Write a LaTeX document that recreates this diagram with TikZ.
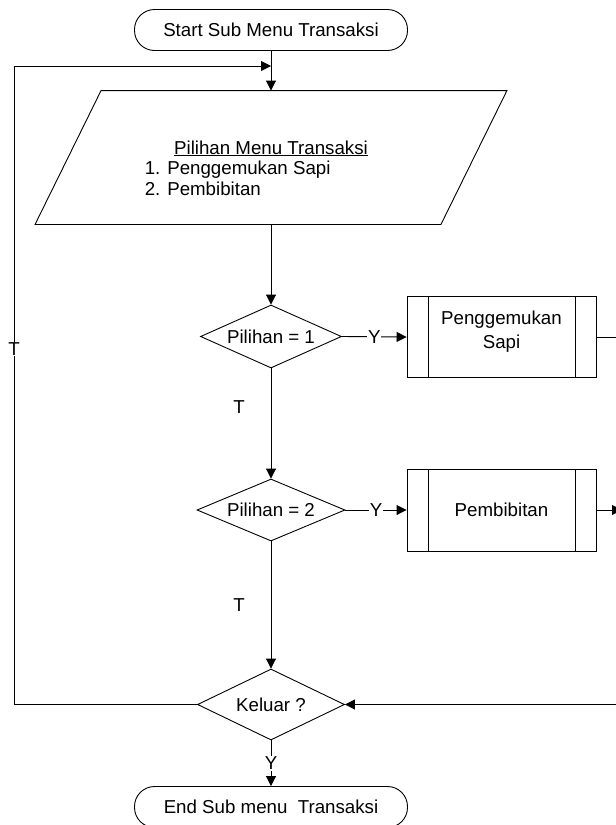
\documentclass[tikz,border=0pt]{standalone}
\usepackage{fontspec}
\setmainfont{Liberation Sans}
\usetikzlibrary{shapes.geometric,arrows.meta}

\begin{document}
\begin{tikzpicture}[x=1pt,y=-1pt,
  font=\fontsize{18.7}{21}\selectfont,
  line width=0.9pt,
  terminal/.style={draw, rectangle, rounded corners=20pt, minimum width=273pt,
    minimum height=41pt, inner sep=0pt},
  decision/.style={draw, diamond, aspect=2.3, inner sep=0pt},
  process/.style={draw, rectangle, minimum width=189pt, minimum height=81pt,
    align=center, inner sep=0pt,
    path picture={\draw
      ([xshift=21pt]path picture bounding box.north west) --
      ([xshift=21pt]path picture bounding box.south west)
      ([xshift=-21pt]path picture bounding box.north east) --
      ([xshift=-21pt]path picture bounding box.south east);}},
  flow/.style={-{Triangle[length=10pt,width=10pt]}},
  lbl/.style={fill=white, inner sep=1pt}
]
\useasboundingbox (0,0) rectangle (616,825);

% terminals
\node[terminal] (start) at (271,30) {Start Sub Menu Transaksi};
\node[terminal] (end) at (271,807) {End Sub menu\ \ Transaksi};

% menu input (parallelogram)
\node[minimum width=405pt, minimum height=133pt, inner sep=0pt] (menu) at (271,157.5) {};
\draw ([xshift=33pt]menu.north west) -- ([xshift=33pt]menu.north east)
  -- ([xshift=-33pt]menu.south east) -- ([xshift=-33pt]menu.south west) -- cycle;
\node[anchor=base] (menutitle) at (271,154) {\underline{Pilihan Menu Transaksi}};
\node[anchor=base west] (item1) at (141,174.5) {1. Penggemukan Sapi};
\node[anchor=base west] (item2) at (141,195.5) {2. Pembibitan};

% decisions
\node[decision, minimum width=141pt, minimum height=63pt] (d1) at (271,336.5) {Pilihan = 1};
\node[decision, minimum width=148pt, minimum height=62pt] (d2) at (271,510) {Pilihan = 2};
\node[decision, minimum width=147pt, minimum height=71pt] (d3) at (271,704.5) {Keluar ?};

% processes
\node[process, font=\fontsize{18.7}{24}\selectfont] (b1) at (501.5,337)
  {\raisebox{1.3pt}[0pt][0pt]{\begin{tabular}{@{}c@{}}Penggemukan\\Sapi\end{tabular}}};
\node[process, minimum height=82pt] (b2) at (501.5,510) {Pembibitan};

% helper coordinates
\coordinate (merge) at (271,66);
\coordinate (lefttop) at (14,66);
\coordinate (rbot) at (622,704.5);

% main flow
\draw[flow] (start.south) -- (menu.north);
\draw[flow] (menu.south) -- (d1.north);
\draw[flow] (d1.south) -- (d2.north);
\draw[flow] (d2.south) -- (d3.north);
\draw[flow] (d3.south) -- node[lbl] (yend) {Y} (end.north);

% branches
\draw[flow] (d1.east) -- node[lbl] (y1) {Y} (b1.west);
\draw[flow] (d2.east) -- node[lbl] (y2) {Y} (b2.west);
\draw[flow] (b1.east) -| (rbot) -- (d3.east);
\draw[flow] (b2.east) -- (b2.east -| rbot);

% loop back
\draw[flow] (d3.west) -| (lefttop) -- (merge);
\node[lbl] (tloop) at (14,349) {T};
\node (t1) at (239,407) {T};
\node (t2) at (239,605) {T};
\end{tikzpicture}
\end{document}
